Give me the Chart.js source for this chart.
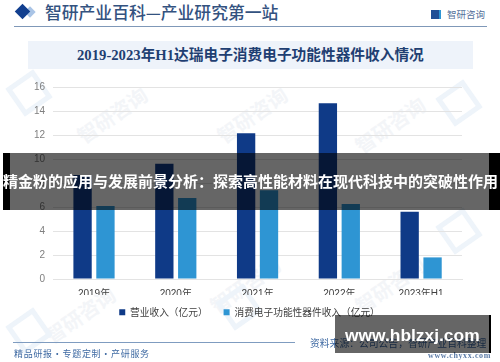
<!DOCTYPE html>
<html>
<head>
<meta charset="utf-8">
<script src="https://cdn.jsdelivr.net/npm/chart.js@4"></script>
<style>
html, body { margin: 0; padding: 0; background: #fff; }
#page { position: relative; width: 500px; height: 362px; overflow: hidden; font-family: "Noto Sans CJK SC", sans-serif; }
#page div { position: absolute; white-space: nowrap; }
canvas { position: absolute; left: 0; top: 0; }
.mark { color: #f3f5f8; font-size: 20px; font-weight: 700; transform: rotate(-35deg); }
.logo { width: 24px; height: 24px; border: 5px solid #eef4fa; transform: rotate(-35deg); }
</style>
</head>
<body>
<div id="page">
  <div class="mark" style="left:72px;top:100px">智研咨询</div>
  <div class="mark" style="left:212px;top:100px">智研咨询</div>
  <div class="mark" style="left:350px;top:110px">智研咨询</div>
  <div class="mark" style="left:40px;top:300px">智研咨询</div>
  <div class="mark" style="left:205px;top:270px">智研咨询</div>
  <div class="mark" style="left:350px;top:270px">智研咨询</div>
  <div class="logo" style="left:12px;top:76px"></div>
  <div class="logo" style="left:12px;top:314px"></div>
  <div class="logo" style="left:222px;top:290px"></div>
  <div class="logo" style="left:442px;top:86px"></div>
  <div class="logo" style="left:442px;top:214px"></div>

  <div style="left:16px;top:5px;width:10px;height:10px;background:#a9c4e6;transform:translate(9px,2px) rotate(45deg) scale(.8)"></div>
  <div style="left:17px;top:6px;width:11px;height:11px;background:#123f8f;transform:rotate(45deg)"></div>
  <div style="left:45px;top:0;font:500 16.8px/25px 'Noto Sans CJK SC';color:#33527f">智研产业百科—产业研究第一站</div>
  <div style="left:431px;top:10px;width:8px;height:9px;background:#1f4e95;border-right:2px solid #2e95d3"></div>
  <div style="left:447px;top:7px;font:9.5px/14px 'Noto Sans CJK SC';color:#54709a">智研咨询</div>
  <div style="left:14px;top:26px;width:473px;height:1px;background:#7f98b8"></div>
  <div style="left:28px;top:41px;width:445px;height:28px;background:#eef3fa"></div>
  <div style="left:77px;top:41px;font:700 14.7px/28px 'Liberation Serif','Noto Sans CJK SC';color:#1f3f72">2019-2023年H1达瑞电子消费电子功能性器件收入情况</div>

  <canvas id="incomeChart" width="500" height="362"></canvas>

  <div style="left:13px;top:342px;width:282px;height:1px;background:#7f9cc0"></div>
  <div style="left:14px;top:346px;font:9px/16px 'Noto Sans CJK SC';letter-spacing:.7px;color:#3f6aa3">精品研报·专题定制·产研服务</div>
  <div style="left:310px;top:336px;font:9.8px/15px 'Noto Sans CJK SC';color:#3f6aa3">资料来源：公司公告，智研产业百科整理</div>
  <div style="left:428px;top:350px;font:700 8px/12px 'Liberation Serif';letter-spacing:.6px;color:#5b7aa6">www.chyxx.com</div>

  <!-- overlay banners on top of the chart -->
  <div style="left:3px;top:153px;width:7px;height:57px;background:#000"></div>
  <div style="left:10px;top:153px;width:479px;height:57px;background:rgba(0,0,0,.6)"></div>
  <div style="left:489px;top:153px;width:11px;height:57px;background:#000"></div>
  <div style="left:3px;top:152px;font:700 15px/57px 'Noto Sans CJK SC';color:#fff">精金粉的应用与发展前景分析：探索高性能材料在现代科技中的突破性作用</div>
  <div style="left:335px;top:315px;width:154px;height:38px;background:rgba(0,0,0,.6)"></div>
  <div style="left:489px;top:315px;width:2px;height:38px;background:#000"></div>
  <div style="left:345px;top:316px;font:700 17.4px/38px 'Liberation Sans';color:#fff">www.hblzxj.com</div>
</div>
<script>
var categories = ['2019年', '2020年', '2021年', '2022年', '2023年H1'];
var revenue = [8.67, 9.6, 12.15, 14.65, 5.6];
var deviceIncome = [6.08, 6.75, 7.4, 6.25, 1.8];
var yTicks = [0, 2, 4, 6, 8, 10, 12, 14, 16];

// legend sits a bit right of and above where Chart.js puts it
var shiftLegend = {
    id: 'shiftLegend',
    afterLayout: function (chart) {
        chart.legend.left += 5.5;
        chart.legend.right += 5.5;
        chart.legend.top -= 3.5;
        chart.legend.bottom -= 3.5;
    }
};

var ctx = document.getElementById('incomeChart').getContext('2d');
var incomeChart = new Chart(ctx, {
    type: 'bar',
    data: {
        labels: categories,
        datasets: [{
            label: '营业收入（亿元）',
            data: revenue,
            backgroundColor: '#0f3a87',
            categoryPercentage: 0.56,
            barPercentage: 0.8
        }, {
            label: '消费电子功能性器件收入（亿元）',
            data: deviceIncome,
            backgroundColor: '#2e95d3',
            categoryPercentage: 0.56,
            barPercentage: 0.8
        }]
    },
    options: {
        responsive: false,
        animation: false,
        layout: { padding: { left: 26, right: 38, top: 87, bottom: 31.3 } },
        scales: {
            x: {
                afterFit: function (axis) { axis.height = 16; },
                grid: { display: false },
                border: { color: '#e3e3e3' },
                ticks: { color: '#404040', padding: 1, font: { size: 10, family: 'Liberation Sans, Noto Sans CJK SC' } }
            },
            y: {
                min: 0,
                max: 16,
                afterBuildTicks: function (axis) {
                    axis.ticks = yTicks.map(function (v) { return { value: v }; });
                },
                grid: { color: '#e3e3e3', drawTicks: false },
                border: { display: false },
                ticks: { color: '#7f7f7f', padding: 8, font: { size: 10, family: 'Liberation Sans' } }
            }
        },
        plugins: {
            tooltip: { enabled: false },
            legend: {
                position: 'bottom',
                labels: {
                    boxWidth: 6,
                    boxHeight: 6,
                    padding: 16,
                    color: '#404040',
                    font: { size: 9.7, family: 'Noto Sans CJK SC' }
                }
            }
        }
    },
    plugins: [shiftLegend]
});
</script>
</body>
</html>
